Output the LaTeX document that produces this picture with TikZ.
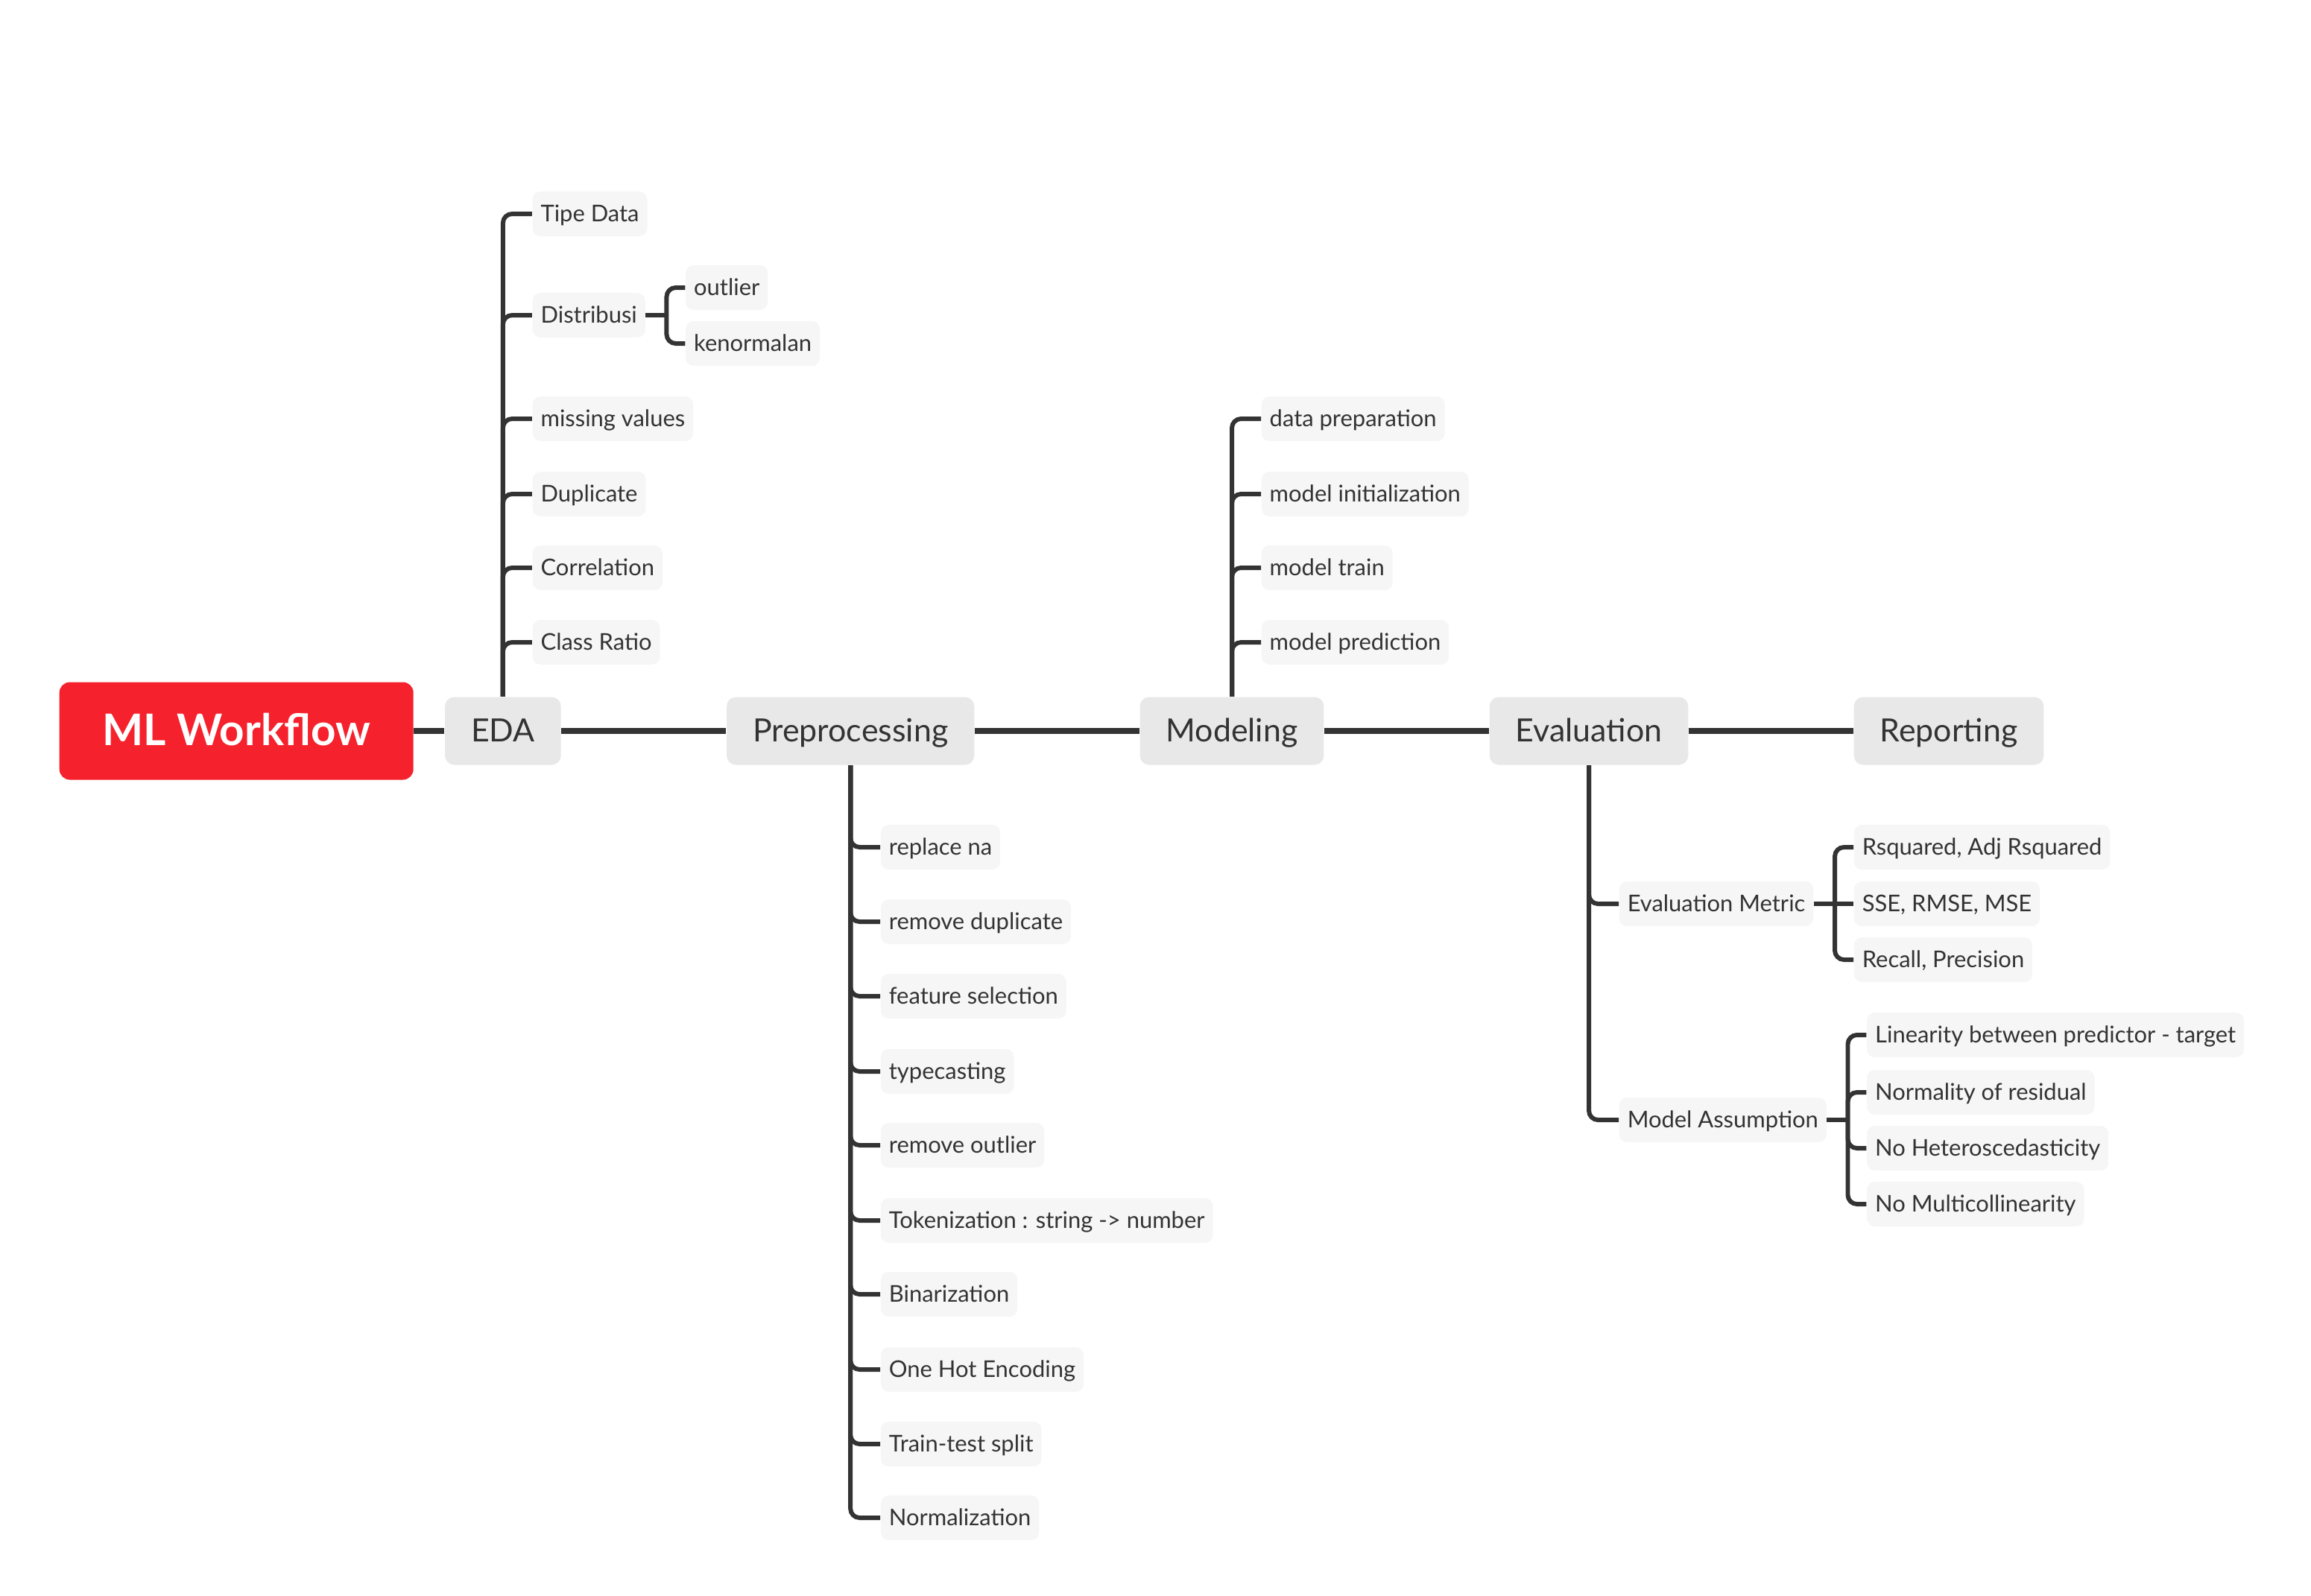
\documentclass[tikz,border=0pt]{standalone}
\usepackage{fontspec}
\setmainfont{Lato}
\usepackage{tikz}
\usetikzlibrary{positioning,calc}
\definecolor{ink}{HTML}{333333}
\definecolor{rootred}{HTML}{F5222D}
\definecolor{topicgray}{HTML}{E8E8E8}
\definecolor{leafgray}{HTML}{F6F6F6}
\tikzset{
  rootbox/.style={fill=rootred, text=white, rounded corners=4pt,
                  font=\fontsize{16.6}{19}\selectfont\bfseries,
                  minimum width=4.75cm, minimum height=1.31cm, inner sep=0pt,
                  text height=11.8pt, text depth=0.8pt},
  topic/.style={fill=topicgray, text=ink, rounded corners=3.5pt,
                font=\fontsize{12.2}{14}\selectfont, minimum height=0.91cm,
                inner xsep=0.35cm, inner ysep=0pt,
                text height=8.8pt, text depth=0.8pt},
  leaf/.style={fill=leafgray, text=ink, rounded corners=3pt, anchor=west,
               font=\fontsize{8.8}{11}\selectfont, minimum height=0.6cm,
               inner xsep=0.11cm, inner ysep=0pt,
               text height=6.5pt, text depth=0.7pt},
  trunk/.style={draw=ink, line width=2.3pt},
  branch/.style={draw=ink, line width=1.7pt, rounded corners=3.5pt},
}

\begin{document}
\begin{tikzpicture}
  \useasboundingbox (0,0) rectangle (31.01,-21.41);

  % main row
  \node[rootbox, anchor=west] (root) at (0.79,-9.81) {ML Workflow};
  \node[topic, right=0.41cm of root] (eda) {EDA};
  \node[topic, right=2.21cm of eda] (prep) {Preprocessing};
  \node[topic, right=2.21cm of prep] (model) {Modeling};
  \node[topic, right=2.21cm of model] (eval) {Evaluation};
  \node[topic, right=2.21cm of eval] (report) {Reporting};

  \draw[trunk] (root) -- (eda);
  \draw[trunk] (eda) -- (prep);
  \draw[trunk] (prep) -- (model);
  \draw[trunk] (model) -- (eval);
  \draw[trunk] (eval) -- (report);

  % EDA
  \coordinate (edax) at ($(eda.center)+(0.39,0)$);
  \node[leaf] (tipe) at (edax |- 0,-2.87) {Tipe Data};
  \node[leaf] (distribusi) at (edax |- 0,-4.23) {Distribusi};
  \node[leaf] (missing) at (edax |- 0,-5.62) {missing values};
  \node[leaf] (duplicate) at (edax |- 0,-6.63) {Duplicate};
  \node[leaf] (correlation) at (edax |- 0,-7.62) {Correlation};
  \node[leaf] (classratio) at (edax |- 0,-8.62) {Class Ratio};

  \draw[branch] (eda.north) |- (tipe.west);
  \draw[branch] (eda.north) |- (distribusi.west);
  \draw[branch] (eda.north) |- (missing.west);
  \draw[branch] (eda.north) |- (duplicate.west);
  \draw[branch] (eda.north) |- (correlation.west);
  \draw[branch] (eda.north) |- (classratio.west);

  \coordinate (jdist) at ($(distribusi.east)+(0.28,0)$);
  \coordinate (distx) at ($(jdist)+(0.25,0)$);
  \node[leaf] (outlier) at (distx |- 0,-3.86) {outlier};
  \node[leaf] (kenormalan) at (distx |- 0,-4.61) {kenormalan};

  \draw[branch] (distribusi.east) -- (jdist);
  \draw[branch] (jdist) |- (outlier.west);
  \draw[branch] (jdist) |- (kenormalan.west);

  % Preprocessing
  \coordinate (prepx) at ($(prep.center)+(0.40,0)$);
  \node[leaf] (replacena) at (prepx |- 0,-11.37) {replace na};
  \node[leaf] (removedup) at (prepx |- 0,-12.37) {remove duplicate};
  \node[leaf] (featsel) at (prepx |- 0,-13.37) {feature selection};
  \node[leaf] (typecast) at (prepx |- 0,-14.38) {typecasting};
  \node[leaf] (removeout) at (prepx |- 0,-15.37) {remove outlier};
  \node[leaf] (tokenize) at (prepx |- 0,-16.38) {Tokenization : string -> number};
  \node[leaf] (binarize) at (prepx |- 0,-17.37) {Binarization};
  \node[leaf] (onehot) at (prepx |- 0,-18.38) {One Hot Encoding};
  \node[leaf] (split) at (prepx |- 0,-19.38) {Train-test split};
  \node[leaf] (normalize) at (prepx |- 0,-20.37) {Normalization};

  \draw[branch] (prep.south) |- (replacena.west);
  \draw[branch] (prep.south) |- (removedup.west);
  \draw[branch] (prep.south) |- (featsel.west);
  \draw[branch] (prep.south) |- (typecast.west);
  \draw[branch] (prep.south) |- (removeout.west);
  \draw[branch] (prep.south) |- (tokenize.west);
  \draw[branch] (prep.south) |- (binarize.west);
  \draw[branch] (prep.south) |- (onehot.west);
  \draw[branch] (prep.south) |- (split.west);
  \draw[branch] (prep.south) |- (normalize.west);

  % Modeling
  \coordinate (modelx) at ($(model.center)+(0.39,0)$);
  \node[leaf] (dataprep) at (modelx |- 0,-5.62) {data preparation};
  \node[leaf] (modelinit) at (modelx |- 0,-6.63) {model initialization};
  \node[leaf] (modeltrain) at (modelx |- 0,-7.62) {model train};
  \node[leaf] (modelpred) at (modelx |- 0,-8.62) {model prediction};

  \draw[branch] (model.north) |- (dataprep.west);
  \draw[branch] (model.north) |- (modelinit.west);
  \draw[branch] (model.north) |- (modeltrain.west);
  \draw[branch] (model.north) |- (modelpred.west);

  % Evaluation
  \coordinate (evalx) at ($(eval.center)+(0.40,0)$);
  \node[leaf] (metric) at (evalx |- 0,-12.13) {Evaluation Metric};
  \node[leaf] (assume) at (evalx |- 0,-15.03) {Model Assumption};

  \draw[branch] (eval.south) |- (metric.west);
  \draw[branch] (eval.south) |- (assume.west);

  \coordinate (jmetric) at ($(metric.east)+(0.28,0)$);
  \coordinate (metricx) at ($(jmetric)+(0.25,0)$);
  \node[leaf] (rsq) at (metricx |- 0,-11.37) {Rsquared, Adj Rsquared};
  \node[leaf] (sse) at (metricx |- 0,-12.13) {SSE, RMSE, MSE};
  \node[leaf] (recall) at (metricx |- 0,-12.88) {Recall, Precision};

  \draw[branch] (metric.east) -- (jmetric);
  \draw[branch] (jmetric) |- (rsq.west);
  \draw[branch] (jmetric) -- (sse.west);
  \draw[branch] (jmetric) |- (recall.west);

  \coordinate (jassume) at ($(assume.east)+(0.28,0)$);
  \coordinate (assumex) at ($(jassume)+(0.25,0)$);
  \node[leaf] (linear) at (assumex |- 0,-13.89) {Linearity between predictor - target};
  \node[leaf] (normal) at (assumex |- 0,-14.66) {Normality of residual};
  \node[leaf] (hetero) at (assumex |- 0,-15.41) {No Heteroscedasticity};
  \node[leaf] (multi) at (assumex |- 0,-16.16) {No Multicollinearity};

  \draw[branch] (assume.east) -- (jassume);
  \draw[branch] (jassume) |- (linear.west);
  \draw[branch] (jassume) |- (normal.west);
  \draw[branch] (jassume) |- (hetero.west);
  \draw[branch] (jassume) |- (multi.west);
\end{tikzpicture}
\end{document}
